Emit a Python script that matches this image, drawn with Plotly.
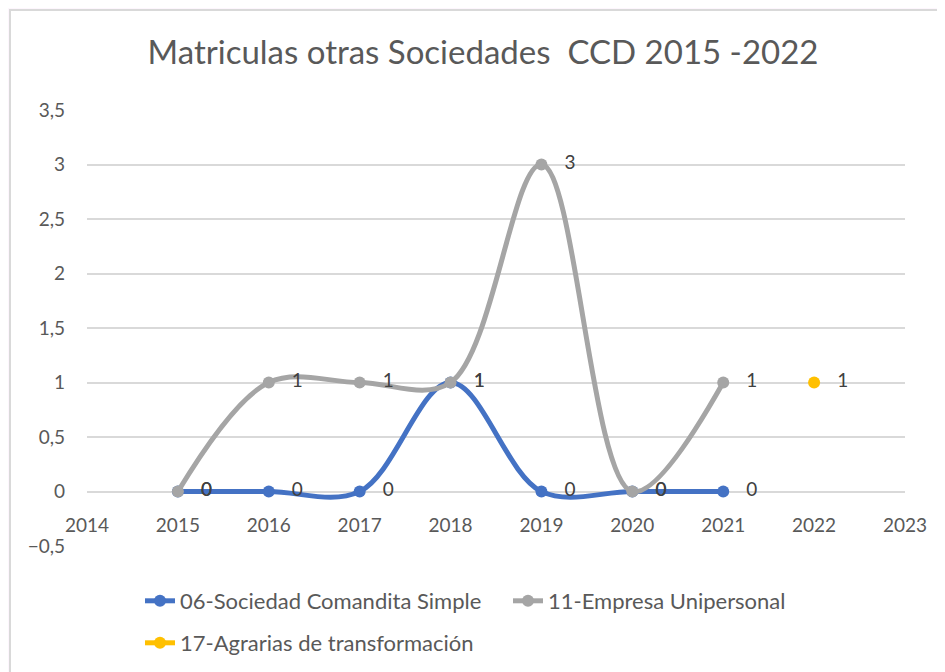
import plotly.graph_objects as go

years = [2015, 2016, 2017, 2018, 2019, 2020, 2021]
comandita = [0, 0, 0, 1, 0, 0, 0]
unipersonal = [0, 1, 1, 1, 3, 0, 1]
agrarias_years = [2022]
agrarias = [1]

names = ["06-Sociedad Comandita Simple", "11-Empresa Unipersonal", "17-Agrarias de transformación"]
colors = ["#4472C4", "#A5A5A5", "#FFC000"]

# page has an 8px body margin; figure coords = reference px - 8
OFF = 8
W, H = 937, 664
L, R, T, B = 79, 40, 102, 126
pw, ph = W - L - R, H - T - B

def px(x):
    return (x - OFF - L) / pw

def py(y):
    return (H - B - (y - OFF)) / ph

FONT = "Lato"
NBSP = "\u00a0"
fig = go.Figure()

series = [(years, comandita), (years, unipersonal), (agrarias_years, agrarias)]
for i, (xs, ys) in enumerate(series):
    fig.add_trace(go.Scatter(
        x=xs, y=ys, name=names[i],
        mode="lines+markers+text",
        line=dict(color=colors[i], width=5, shape="spline", smoothing=1),
        marker=dict(color=colors[i], size=12),
        text=[NBSP * 3 + str(v) for v in ys],
        textposition="middle right",
        textfont=dict(family=FONT, size=19, color="#404040"),
        legend="legend" if i < 2 else "legend2",
        cliponaxis=False,
    ))

fig.update_layout(
    width=W, height=H,
    margin=dict(l=L, r=R, t=T, b=B, autoexpand=False),
    paper_bgcolor="#FDF6FD",
    plot_bgcolor="rgba(0,0,0,0)",
    separators=",.",
    title=dict(
        text="Matriculas otras Sociedades  CCD 2015 -2022",
        x=px(483), xref="paper", xanchor="center",
        y=1 - (52 - OFF) / H, yanchor="middle",
        font=dict(family=FONT, size=33, color="#595959"),
    ),
    xaxis=dict(
        range=[2014, 2023], dtick=1, tick0=2014, tickformat="d",
        showgrid=False, zeroline=False, showline=False,
        anchor="free", position=0.125,
        ticks="", ticklabelstandoff=20,
        tickfont=dict(family=FONT, size=19, color="#595959"),
    ),
    yaxis=dict(
        range=[-0.5, 3.5], dtick=0.5, tick0=0,
        showgrid=True, gridcolor="#D9D9D9", gridwidth=1.5,
        zeroline=False, showline=False,
        ticks="", ticklabelstandoff=21,
        tickfont=dict(family=FONT, size=19, color="#595959"),
    ),
    legend=dict(
        orientation="h", x=px(140), y=py(601), xanchor="left", yanchor="middle",
        font=dict(family=FONT, size=22, color="#595959"),
        bgcolor="rgba(0,0,0,0)", itemwidth=30, entrywidth=323,
    ),
    legend2=dict(
        orientation="h", x=px(140), y=py(643), xanchor="left", yanchor="middle",
        font=dict(family=FONT, size=22, color="#595959"),
        bgcolor="rgba(0,0,0,0)", itemwidth=30,
    ),
    shapes=[dict(
        type="rect", xref="paper", yref="paper",
        x0=px(10), x1=px(W + 40), y0=py(H + 40), y1=py(10),
        fillcolor="white", line=dict(color="#D9D9D9", width=2), layer="below",
    )],
)

fig.write_html("out.html")
